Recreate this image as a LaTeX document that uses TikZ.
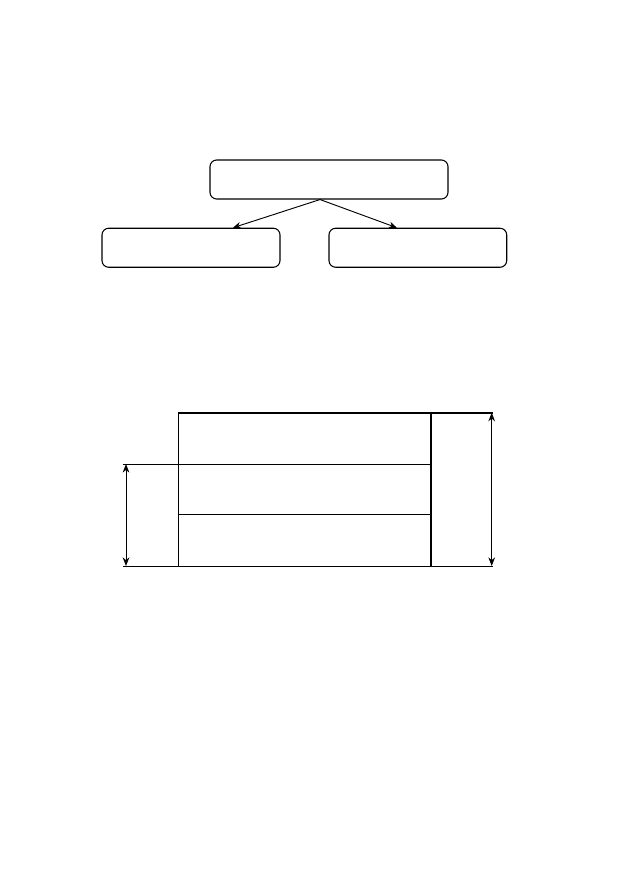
\documentclass[tikz,border=0pt]{standalone}
\usepackage{tikz}
\usetikzlibrary{arrows.meta, positioning, calc}

\begin{document}
\begin{tikzpicture}[
    x=0.75pt, y=-0.75pt,
    block/.style={rectangle, rounded corners=5pt, minimum height=29.25pt, inner sep=0pt, draw=black, line width=0.8pt},
    arrow/.style={-{Stealth[length=6pt, width=5pt]}, line width=0.7pt},
    dimline/.style={{Stealth[length=6.5pt, width=5pt]}-{Stealth[length=6.5pt, width=5pt]}, line width=0.7pt},
    thinline/.style={line width=0.75pt},
    thickline/.style={line width=1.6pt}
]
\useasboundingbox (0,0) rectangle (629,893);

% Boxes at the top
\node[block, minimum width=178.5pt] (root) at (329,179.5) {};
\node[block, minimum width=133.5pt] (leftbox) at (191,247.75) {};
\node[block, minimum width=133.3pt] (rightbox) at (417.85,247.75) {};

% Arrows from the upper box
\coordinate (split) at ($(root.south)+(-9,0)$);
\draw[arrow] (split) -- ($(leftbox.north)+(42,0)$);
\draw[arrow] (split) -- ($(rightbox.north)+(-21,0)$);

% Layered block below
\coordinate (tl) at (178.3,412.7);
\coordinate (tr) at (493,412.7);
\coordinate (wallt) at (431,412.7);
\coordinate (wallb) at (431,566);
\coordinate (bl) at (123,566);
\coordinate (br) at (493,566);
\coordinate (ml) at (123,464);
\coordinate (mr) at (431,464);
\coordinate (ll) at (178.3,514.3);
\coordinate (lr) at (431,514.3);

\draw[thickline] (tl) -- (tr);
\draw[thickline] (wallt) -- (wallb);
\draw[thinline] (tl) -- (tl |- bl);
\draw[thinline] (ml) -- (mr);
\draw[thinline] (ll) -- (lr);
\draw[thinline] (bl) -- (br);

% Dimension arrows
\draw[dimline] (126,464) -- (126,566);
\draw[dimline] (491.7,412.7) -- (491.7,566);

\end{tikzpicture}
\end{document}
